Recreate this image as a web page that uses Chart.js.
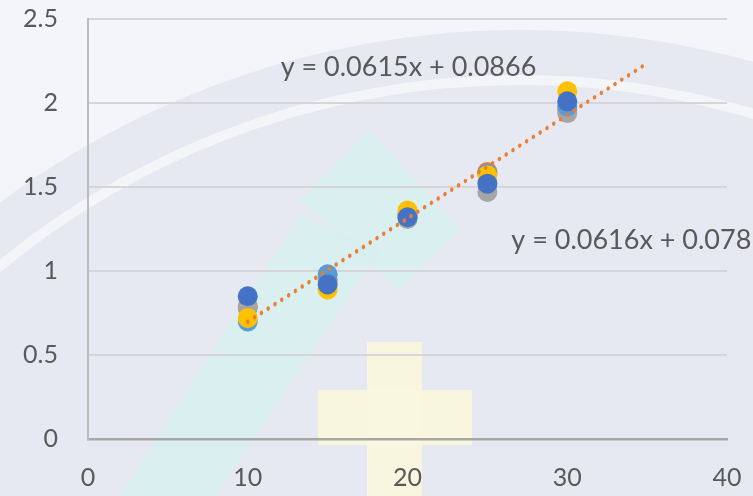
<!DOCTYPE html>
<html>
<head>
<meta charset="utf-8">
<script src="https://cdn.jsdelivr.net/npm/chart.js@4.4.1/dist/chart.umd.min.js"></script>
<style>
  html, body { margin: 0; padding: 0; background: #eef0f6; }
  #wrap { width: 753px; height: 496px; position: relative; }
</style>
</head>
<body>
<div id="wrap"><canvas id="c" width="753" height="496"></canvas></div>
<script>
// Concentrations measured at each step
const xValues = [10, 15, 20, 25, 30];

// Replicate series
const seriesOrange    = [0.79, 0.95, 1.34, 1.59, 1.96];
const seriesGray      = [0.78, 0.94, 1.31, 1.47, 1.94];
const seriesLightBlue = [0.70, 0.98, 1.33, 1.58, 1.98];
const seriesYellow    = [0.72, 0.89, 1.36, 1.57, 2.07];
const seriesDarkBlue  = [0.85, 0.92, 1.32, 1.52, 2.01];

// Linear fits: [slope, intercept]
const fitA = [0.0615, 0.0866];
const fitB = [0.0616, 0.078];
const fitRange = [10, 35];

// Axis ticks
const xTicks = [0, 10, 20, 30, 40];
const yTicks = [0, 0.5, 1, 1.5, 2, 2.5];

const fitLabelA = 'y = 0.0615x + 0.0866';
const fitLabelB = 'y = 0.0616x + 0.078';

const toPoints = ys => xValues.map((x, i) => ({ x: x, y: ys[i] }));
const fitLine = f => fitRange.map(x => ({ x: x, y: f[0] * x + f[1] }));

const TEXT = '#595959';
const FONT = 'Lato, "Open Sans", sans-serif';

// Soft emblem drawn behind the plot
const backdrop = {
  id: 'backdrop',
  beforeDraw(chart) {
    const ctx = chart.ctx;
    const W = chart.width, H = chart.height;
    ctx.save();
    ctx.fillStyle = '#f4f5f9';
    ctx.fillRect(0, 0, W, H);
    // large disc
    ctx.beginPath();
    ctx.arc(520, 900, 870, 0, Math.PI * 2);
    ctx.fillStyle = '#e6e9f2';
    ctx.fill();
    // light ring inside the disc
    ctx.beginPath();
    ctx.arc(520, 900, 820, 0, Math.PI * 2);
    ctx.lineWidth = 10;
    ctx.strokeStyle = 'rgba(255,255,255,0.55)';
    ctx.stroke();
    // pale cyan diagonal strokes
    ctx.fillStyle = 'rgba(214,240,238,0.75)';
    ctx.beginPath();
    ctx.moveTo(120, 496); ctx.lineTo(215, 496); ctx.lineTo(380, 250); ctx.lineTo(300, 215);
    ctx.closePath(); ctx.fill();
    ctx.beginPath();
    ctx.moveTo(300, 200); ctx.lineTo(370, 130); ctx.lineTo(460, 230); ctx.lineTo(400, 290);
    ctx.closePath(); ctx.fill();
    // pale yellow cross
    ctx.fillStyle = 'rgba(250,247,222,0.95)';
    ctx.fillRect(318, 390, 154, 55);
    ctx.fillRect(367, 342, 55, 154);
    ctx.restore();
  }
};

// Equation labels for the fits
const fitText = {
  id: 'fitText',
  afterDraw(chart) {
    const ctx = chart.ctx;
    const xs = chart.scales.x, ys = chart.scales.y;
    ctx.save();
    ctx.font = '27px ' + FONT;
    ctx.fillStyle = TEXT;
    ctx.textBaseline = 'middle';
    ctx.textAlign = 'left';
    ctx.fillText(fitLabelA, xs.getPixelForValue(12.06), ys.getPixelForValue(2.21));
    ctx.fillText(fitLabelB, xs.getPixelForValue(26.5), ys.getPixelForValue(1.18));
    ctx.restore();
  }
};

const pointSet = (label, data, color, order) => ({
  type: 'scatter', label, data: toPoints(data), order,
  backgroundColor: color, borderColor: color,
  pointRadius: 10, pointHoverRadius: 10, borderWidth: 0
});

const trend = (label, f, order) => ({
  type: 'line', label, data: fitLine(f), order,
  borderColor: '#ed7d31', borderWidth: 3.2,
  borderDash: [0.1, 8], borderCapStyle: 'round',
  pointRadius: 0, fill: false, tension: 0
});

new Chart(document.getElementById('c'), {
  type: 'scatter',
  data: {
    datasets: [
      trend('Fit A', fitA, 0),
      trend('Fit B', fitB, 0),
      pointSet('S5', seriesDarkBlue, '#4472c4', 1),
      pointSet('S4', seriesYellow, '#ffc000', 2),
      pointSet('S3', seriesLightBlue, '#5b9bd5', 3),
      pointSet('S2', seriesGray, '#a5a5a5', 4),
      pointSet('S1', seriesOrange, '#ed7d31', 5)
    ]
  },
  options: {
    responsive: false,
    animation: false,
    devicePixelRatio: 1,
    layout: { padding: { top: 19, right: 26, left: 0, bottom: 0 } },
    plugins: { legend: { display: false }, tooltip: { enabled: false } },
    scales: {
      x: {
        type: 'linear', min: 0, max: 40,
        afterBuildTicks: s => { s.ticks = xTicks.map(v => ({ value: v })); },
        afterFit: s => { s.height = 57; s.paddingLeft = 0; s.paddingRight = 0; },
        grid: { display: false, drawTicks: false },
        border: { display: true, color: '#a6a6a6', width: 2.5 },
        ticks: { color: TEXT, font: { family: FONT, size: 25 }, padding: 24, maxRotation: 0,
                 callback: v => String(v) }
      },
      y: {
        type: 'linear', min: 0, max: 2.5,
        afterBuildTicks: s => { s.ticks = yTicks.map(v => ({ value: v })); },
        afterFit: s => { s.width = 88; s.paddingTop = 0; s.paddingBottom = 0; },
        grid: { color: '#d6d6d9', lineWidth: 2, drawTicks: false },
        border: { display: true, color: '#bcbcbf', width: 2 },
        ticks: { color: TEXT, font: { family: FONT, size: 25 }, padding: 30,
                 callback: v => String(v) }
      }
    }
  },
  plugins: [backdrop, fitText]
});
</script>
</body>
</html>
